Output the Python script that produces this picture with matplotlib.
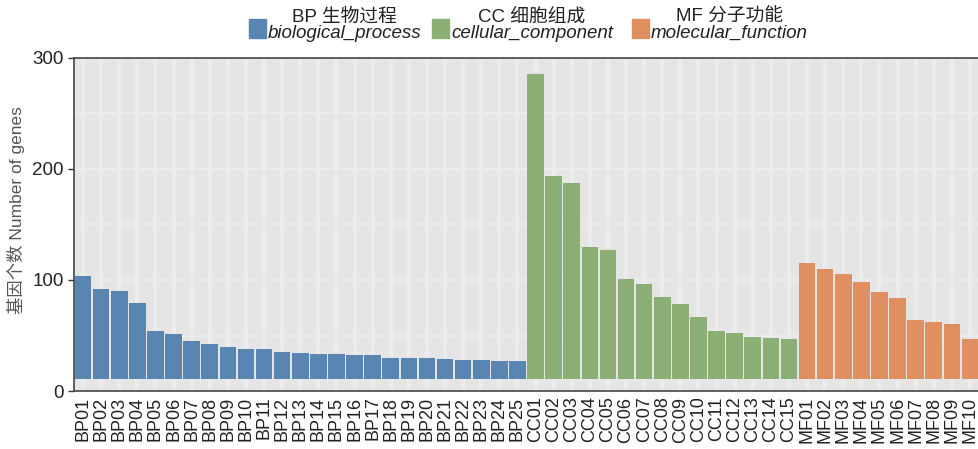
import numpy as np
import matplotlib
matplotlib.use('Agg')
import matplotlib.pyplot as plt
from matplotlib.patches import Rectangle

plt.rcParams['font.family'] = ['Liberation Sans', 'Noto Sans CJK SC']
plt.rcParams['text.color'] = '#222222'
plt.rcParams['xtick.color'] = '#222222'
plt.rcParams['ytick.color'] = '#222222'

# GO 分类数据
bp_values = [104, 92, 90, 79, 54, 51, 45, 42, 40, 38, 38, 35, 34, 33, 33,
             32, 32, 30, 30, 30, 29, 28, 28, 27, 27]
cc_values = [286, 194, 187, 130, 127, 101, 96, 85, 78, 67, 54, 52, 49, 48, 47]
mf_values = [115, 110, 105, 98, 89, 84, 64, 62, 60, 47]

bp_labels = ['BP%02d' % i for i in range(1, 26)]
cc_labels = ['CC%02d' % i for i in range(1, 16)]
mf_labels = ['MF%02d' % i for i in range(1, 11)]

group_titles = ['BP 生物过程', 'CC 细胞组成', 'MF 分子功能']
group_names = ['biological_process', 'cellular_component', 'molecular_function']
colors = ['#5985B3', '#8BAF74', '#E08F60']

W, H = 979, 449
fig = plt.figure(figsize=(W / 100, H / 100), dpi=100)
ax = fig.add_axes([74 / W, 1 - 391 / H, 1 - 74 / W, (391 - 58) / H])

values = bp_values + cc_values + mf_values
labels = bp_labels + cc_labels + mf_labels
bar_colors = ([colors[0]] * len(bp_values) + [colors[1]] * len(cc_values)
              + [colors[2]] * len(mf_values))
x = np.arange(len(values))
base = 11

ax.set_facecolor('#E5E5E5')
for v in np.arange(0, 301, 50):
    ax.axhline(v, color='#EEEEEE', lw=1.2, zorder=0)
for xi in x:
    ax.axvline(xi, color='#ECECEC', lw=3, zorder=0)

ax.bar(x, np.array(values) - base, bottom=base, width=0.92, color=bar_colors,
       edgecolor='none', zorder=2)

ax.set_xlim(-0.5, len(values) - 0.5)
ax.set_ylim(0, 300)
ax.set_yticks([0, 100, 200, 300])
ax.tick_params(axis='y', labelsize=13.5, length=4, width=1, color='#333333')
ax.set_xticks(x)
ax.set_xticklabels(labels, rotation=90, fontsize=13)
ax.tick_params(axis='x', length=0, pad=4)
ax.spines['right'].set_visible(False)
for s in ['left', 'bottom', 'top']:
    ax.spines[s].set_color('#444444')
    ax.spines[s].set_linewidth(1.2)
ax.set_ylabel('基因个数 Number of genes', fontsize=12.5, color='#555555')
ax.yaxis.set_label_coords(-(74 - 25) / (W - 74), (391 - 210) / (391 - 58))

# 图例（两行文字）
patch_x = [249, 432, 632]
for px, title, name, c in zip(patch_x, group_titles, group_names, colors):
    fig.patches.append(Rectangle((px / W, 1 - 38 / H), 17 / W, 19 / H,
                                 transform=fig.transFigure, color=c))
    t = fig.text((px + 19) / W, 1 - 33 / H, name, fontsize=13.5,
                 style='italic', va='center', ha='left')
    fig.canvas.draw()
    bb = t.get_window_extent()
    cx = (bb.x0 + bb.x1) / 2
    fig.text(cx / W, 1 - 17 / H, title, fontsize=13.5, va='center', ha='center')

fig.savefig('out.png', dpi=100)
